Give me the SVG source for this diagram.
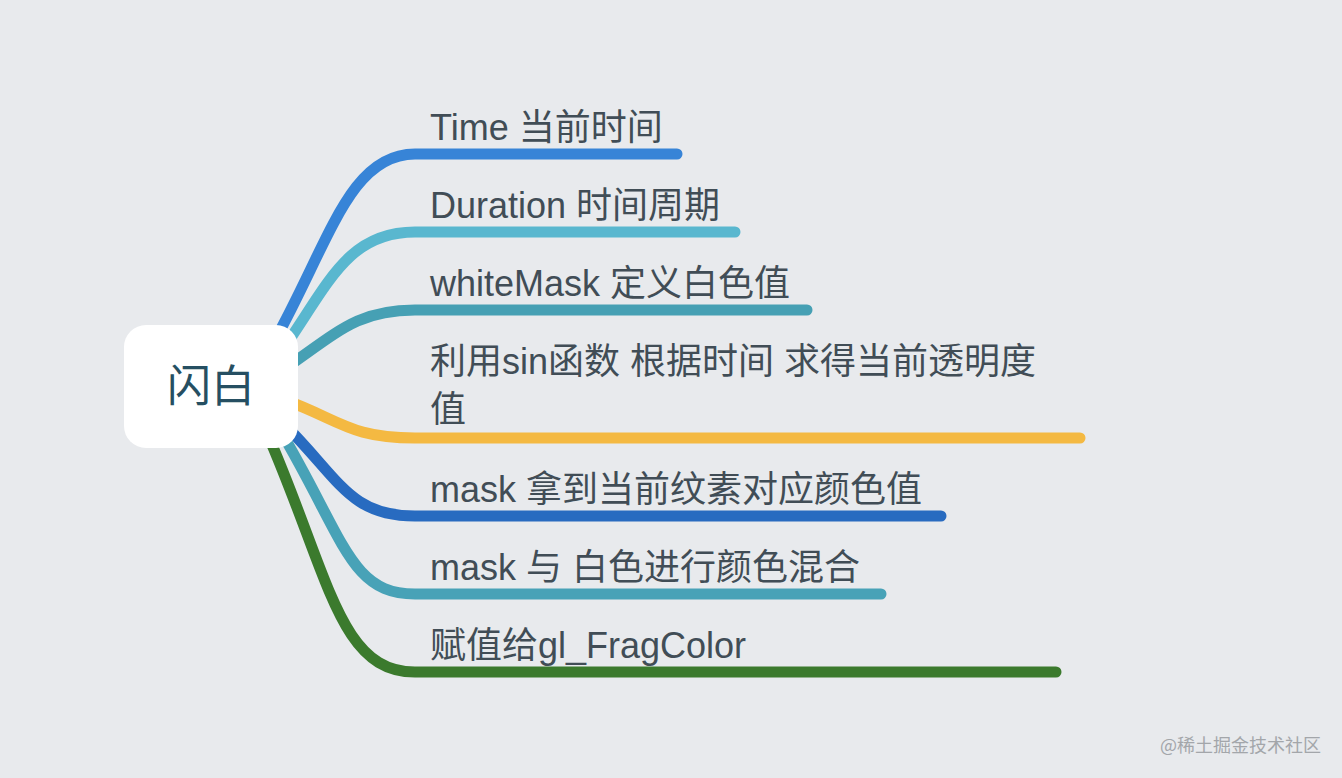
<svg xmlns="http://www.w3.org/2000/svg" width="1342" height="778" viewBox="0 0 1342 778">
<style>
.br{fill:none;stroke-width:11;stroke-linecap:round;stroke-linejoin:round}
.t{font-family:"Liberation Sans","Noto Sans CJK SC",sans-serif;font-size:36px;fill:#414d56}
.root{font-family:"Noto Sans CJK SC",sans-serif;font-size:44px;fill:#264f62}
.wm{font-family:"Noto Sans CJK SC",sans-serif;font-size:18px;fill:#a3a6aa}
</style>
<rect width="1342" height="778" fill="#e8eaed"/>
<g id="connectors">
<path class="br" stroke="#3784d7" d="M275 340 C330 240,350 154,415 154 L677 154"/>
<path class="br" stroke="#59b7cf" d="M288 342 C330 280,350 232,415 232 L735 232"/>
<path class="br" stroke="#46a0b4" d="M290 365 C340 330,360 310,415 310 L807 310"/>
<path class="br" stroke="#f4b942" d="M285 400 C340 420,350 438,415 438 L1080 438"/>
<path class="br" stroke="#286bc0" d="M285 425 C340 480,350 516,415 516 L941 516"/>
<path class="br" stroke="#48a2b7" d="M280 430 C345 540,350 594,415 594 L881 594"/>
<path class="br" stroke="#3b7a2d" d="M270 440 C330 580,340 672,415 672 L1056 672"/>
</g>
<g id="root">
<rect x="124" y="325" width="174" height="123" rx="22" fill="#ffffff"/>
<text class="root" x="211" y="402" text-anchor="middle">闪白</text>
</g>
<g id="n1"><text class="t" x="430" y="140">Time 当前时间</text></g>
<g id="n2"><text class="t" x="430" y="218">Duration 时间周期</text></g>
<g id="n3"><text class="t" x="430" y="296">whiteMask 定义白色值</text></g>
<g id="n4"><text class="t" x="430" y="374">利用sin函数 根据时间 求得当前透明度</text><text class="t" x="430" y="422">值</text></g>
<g id="n5"><text class="t" x="430" y="502">mask 拿到当前纹素对应颜色值</text></g>
<g id="n6"><text class="t" x="430" y="580">mask 与 白色进行颜色混合</text></g>
<g id="n7"><text class="t" x="430" y="658">赋值给gl_FragColor</text></g>
<text class="wm" x="1160" y="752">@稀土掘金技术社区</text>
</svg>
